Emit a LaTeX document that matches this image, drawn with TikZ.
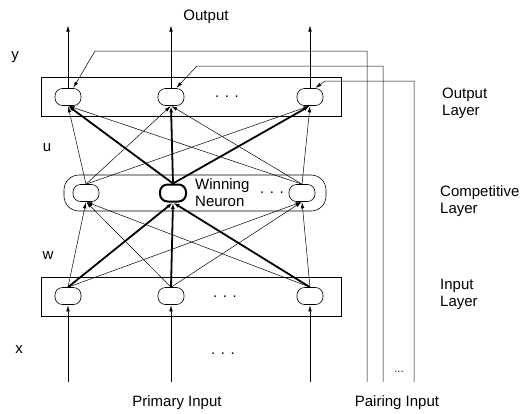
\documentclass[tikz,border=0pt]{standalone}
\usepackage{fontspec}
\setmainfont{Liberation Sans}
\usetikzlibrary{arrows.meta}

\begin{document}
\begin{tikzpicture}[x=1pt,y=1pt]
\tikzstyle{every node}+=[inner sep=0pt, font=\fontsize{15}{17}\selectfont]
\tikzstyle{neuron}=[draw, rectangle, rounded corners=7.5pt, minimum width=26pt, minimum height=17pt, line width=0.6pt, fill=white]
\tikzstyle{link}=[line width=0.5pt, -{Latex[length=6pt,width=3.5pt]}, shorten >=0.5pt]
\tikzstyle{winlink}=[line width=1.8pt, -{Latex[length=6pt,width=4pt]}, shorten >=0.5pt]
\tikzstyle{layerbox}=[line width=0.6pt]
\useasboundingbox (0,0) rectangle (527,-413);
% layers
\draw [layerbox] (41,-77) rectangle (341,-116);
\draw [layerbox, rounded corners=15pt] (64,-175) rectangle (326,-211);
\draw [layerbox] (41,-277) rectangle (341,-316);
% neurons
\node [neuron] (o1) at (68,-97) {};
\node [neuron] (o2) at (171,-97) {};
\node [neuron] (o3) at (310,-97) {};
\node [neuron] (c1) at (86,-193) {};
\node [neuron, line width=2pt] (c2) at (173,-193) {};
\node [neuron] (c3) at (302,-193) {};
\node [neuron] (i1) at (68,-296) {};
\node [neuron] (i2) at (171,-296) {};
\node [neuron] (i3) at (310,-296) {};
% free ends
\coordinate (p1) at (68,-382);
\coordinate (p2) at (171,-382);
\coordinate (p3) at (310,-382);
\coordinate (y1) at (68,-25);
\coordinate (y2) at (171,-25);
\coordinate (y3) at (310,-25);
\coordinate (q1) at (367,-382);
\coordinate (q2) at (383,-382);
\coordinate (q3) at (414,-382);
% primary input and output
\draw [link] (p1) -- (i1);
\draw [link] (p2) -- (i2);
\draw [link] (p3) -- (i3);
\draw [link] (o1) -- (y1);
\draw [link] (o2) -- (y2);
\draw [link] (o3) -- (y3);
% w
\draw [link] (i1.north) -- (c1.south);
\draw [winlink] (i1.north) -- (c2.south);
\draw [link] (i1.north) -- (c3.south);
\draw [link] (i2.north) -- (c1.south);
\draw [winlink] (i2.north) -- (c2.south);
\draw [link] (i2.north) -- (c3.south);
\draw [link] (i3.north) -- (c1.south);
\draw [winlink] (i3.north) -- (c2.south);
\draw [link] (i3.north) -- (c3.south);
% u
\draw [link] (c1.north) -- (o1.south);
\draw [link] (c1.north) -- (o2.south);
\draw [link] (c1.north) -- (o3.south);
\draw [winlink] (c2.north) -- (o1.south);
\draw [winlink] (c2.north) -- (o2.south);
\draw [winlink] (c2.north) -- (o3.south);
\draw [link] (c3.north) -- (o1.south);
\draw [link] (c3.north) -- (o2.south);
\draw [link] (c3.north) -- (o3.south);
% pairing input
\draw [link] (q1) |- (95,-51) -- (o1.60);
\draw [link] (q2) |- (197,-66) -- (o2.60);
\draw [link] (q3) |- (325,-81) -- (o3.60);
% labels
\node (out) at (206,-17) {Output};
\node (ly) at (15,-57) {y};
\node (lu) at (47,-148) {u};
\node (lw) at (48,-256) {w};
\node (lx) at (19,-350) {x};
\node (od) at (227,-97) {. . .};
\node (cd) at (272,-193) {. . .};
\node (id) at (225,-297) {. . .};
\node (xd) at (223,-354) {. . .};
\node [font=\fontsize{11}{13}\selectfont] (qd) at (399,-372) {...};
\node [anchor=west, align=left] (win) at (195,-193) {Winning\\Neuron};
\node [anchor=west, align=left] (ol) at (442,-103) {Output\\Layer};
\node [anchor=west, align=left] (cl) at (440,-201) {Competitive\\Layer};
\node [anchor=west, align=left] (il) at (440,-294) {Input\\Layer};
\node (pin) at (177,-403) {Primary Input};
\node (qin) at (397,-403) {Pairing Input};
\end{tikzpicture}
\end{document}
